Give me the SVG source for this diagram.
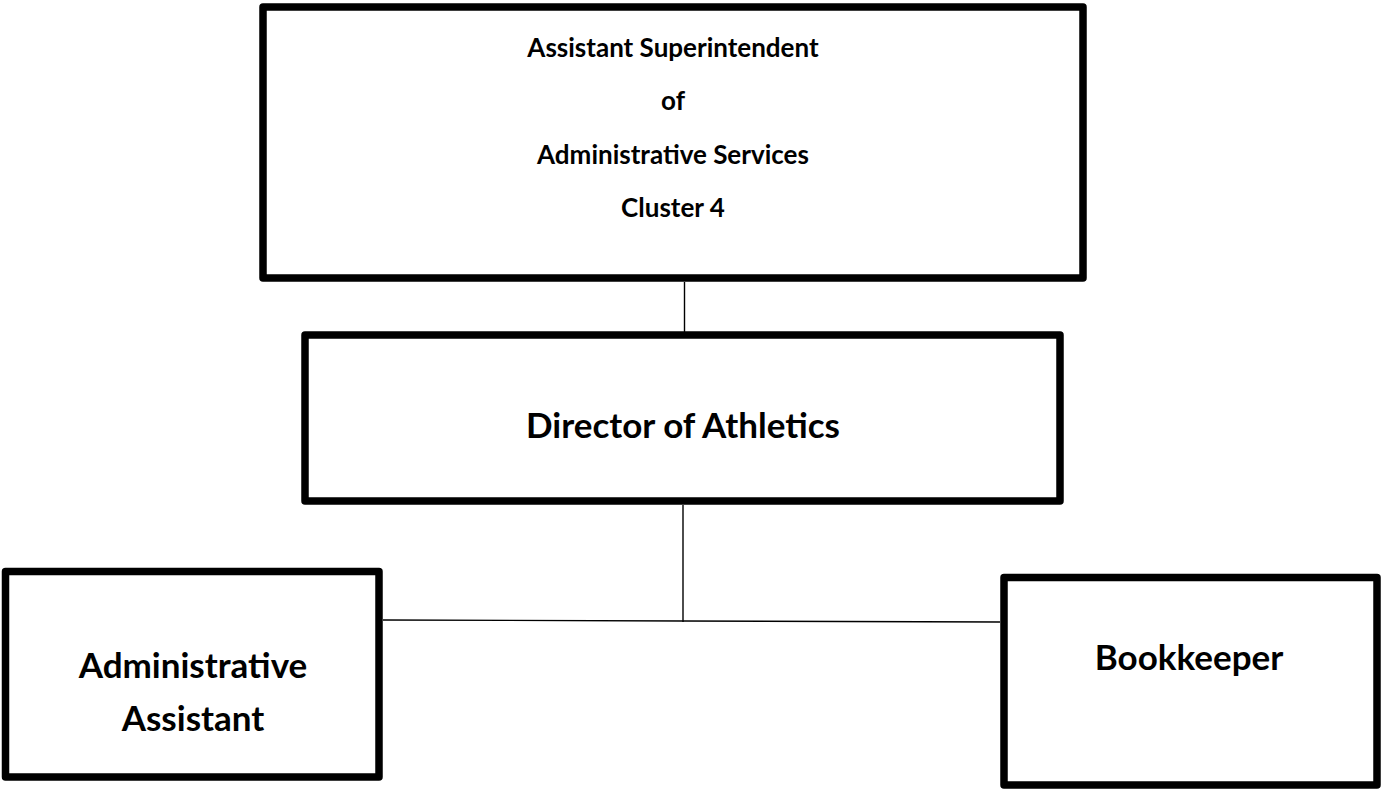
<svg xmlns="http://www.w3.org/2000/svg" width="1381" height="789" viewBox="0 0 1381 789">
<style>
.box{fill:#fff;stroke:#000;stroke-width:7.5;stroke-linejoin:round}
.conn{stroke:#000;stroke-width:1.4;fill:none}
.t{font-family:Lato,"Open Sans","Liberation Sans",sans-serif;font-weight:bold;font-size:26px;text-anchor:middle;fill:#000}
.L{font-size:35px}
</style>
<rect width="1381" height="789" fill="#fff"/>
<g id="connectors">
<line class="conn" x1="684.5" y1="282" x2="684.5" y2="332"/>
<line class="conn" x1="683" y1="505" x2="683" y2="622"/>
<polyline class="conn" points="383,620 683,621 1000,622"/>
</g>
<g id="n1">
<rect class="box" x="263" y="7" width="820" height="271"/>
<text class="t" x="673" y="57">Assistant Superintendent</text>
<text class="t" x="673" y="110">of</text>
<text class="t" x="673" y="164">Administrative Services</text>
<text class="t" x="673" y="217">Cluster 4</text>
</g>
<g id="n2">
<rect class="box" x="305" y="335" width="755" height="166"/>
<text class="t L" x="683" y="438">Director of Athletics</text>
</g>
<g id="n3">
<rect class="box" x="5.5" y="571.5" width="373.5" height="205.5"/>
<text class="t L" x="193" y="678">Administrative</text>
<text class="t L" x="193" y="731">Assistant</text>
</g>
<g id="n4">
<rect class="box" x="1004" y="577.5" width="373" height="207.5"/>
<text class="t L" x="1189" y="670">Bookkeeper</text>
</g>
</svg>
